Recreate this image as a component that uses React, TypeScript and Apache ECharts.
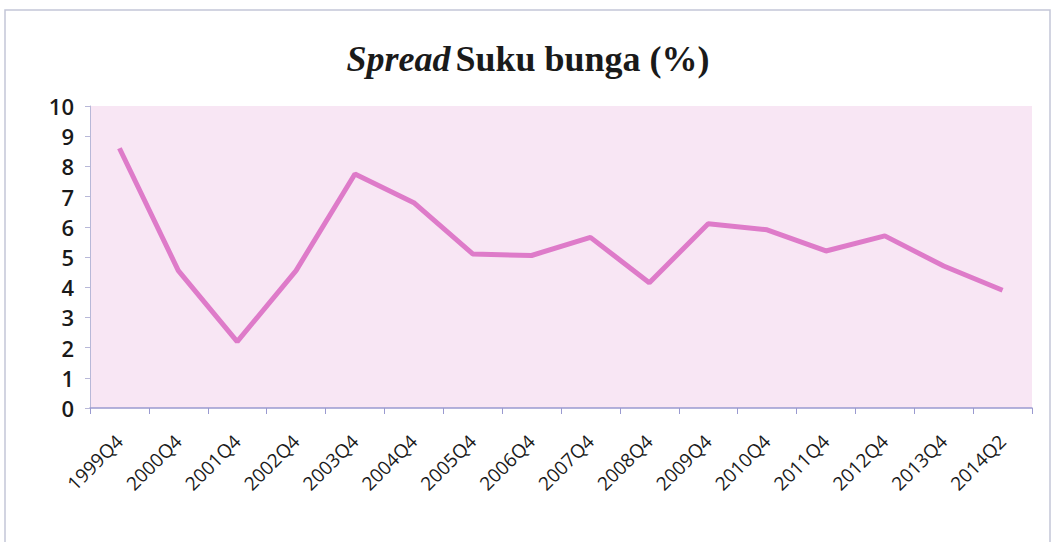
import React, { useEffect, useRef } from "react";
import * as echarts from "echarts";

const categories = ["1999Q4","2000Q4","2001Q4","2002Q4","2003Q4","2004Q4","2005Q4","2006Q4","2007Q4","2008Q4","2009Q4","2010Q4","2011Q4","2012Q4","2013Q4","2014Q2"];
const spread = [8.6, 4.55, 2.2, 4.55, 7.75, 6.8, 5.1, 5.05, 5.65, 4.15, 6.1, 5.9, 5.2, 5.7, 4.7, 3.9];
const yTicks = [0, 1, 2, 3, 4, 5, 6, 7, 8, 9, 10];

export default function App() {
  const ref = useRef<HTMLDivElement>(null);
  useEffect(() => {
    const chart = echarts.init(ref.current!, undefined, { renderer: "svg" });
    chart.setOption({
      animation: false,
      backgroundColor: "#ffffff",
      title: {
        text: "{i|Spread} {b|Suku bunga (%)}",
        left: "center",
        top: 36,
        textStyle: {
          rich: {
            i: { fontFamily: "Liberation Serif", fontStyle: "italic", fontWeight: "bold", fontSize: 36, color: "#1a1a1a" },
            b: { fontFamily: "Liberation Serif", fontWeight: "bold", fontSize: 36, color: "#1a1a1a" },
          },
        },
      },
      graphic: [
        {
          type: "rect",
          shape: { x: 5, y: 10, width: 1045, height: 540 },
          style: { fill: "none", stroke: "#c3c6d8", lineWidth: 1.5 },
          silent: true,
        },
      ],
      grid: { left: 90, right: 24, top: 106, bottom: 134, backgroundColor: "#f8e6f4", show: true, borderWidth: 0 },
      xAxis: {
        type: "category",
        data: categories,
        boundaryGap: true,
        axisLine: { show: true, lineStyle: { color: "#9a9ad0", width: 1.5 } },
        axisTick: { show: true, length: 6, lineStyle: { color: "#9a9ad0" } },
        axisLabel: { rotate: 45, fontFamily: "Open Sans", fontSize: 19, color: "#1a1a1a", margin: 30 },
        splitLine: { show: false },
      },
      yAxis: {
        type: "value",
        min: yTicks[0],
        max: yTicks[yTicks.length - 1],
        interval: 1,
        axisLine: { show: true, lineStyle: { color: "#b8b8d8", width: 1 } },
        axisTick: { show: true, length: 5, lineStyle: { color: "#b8b8d8" } },
        axisLabel: { fontFamily: "Open Sans", fontSize: 22, fontWeight: 600, color: "#1a1a1a", margin: 16 },
        splitLine: { show: false },
      },
      series: [
        {
          type: "line",
          data: spread,
          symbol: "none",
          lineStyle: { color: "#de7bc9", width: 5 },
        },
      ],
    });
    return () => chart.dispose();
  }, []);
  return <div ref={ref} style={{ position: "fixed", left: 0, top: 0, width: 1056, height: 542 }} />;
}
